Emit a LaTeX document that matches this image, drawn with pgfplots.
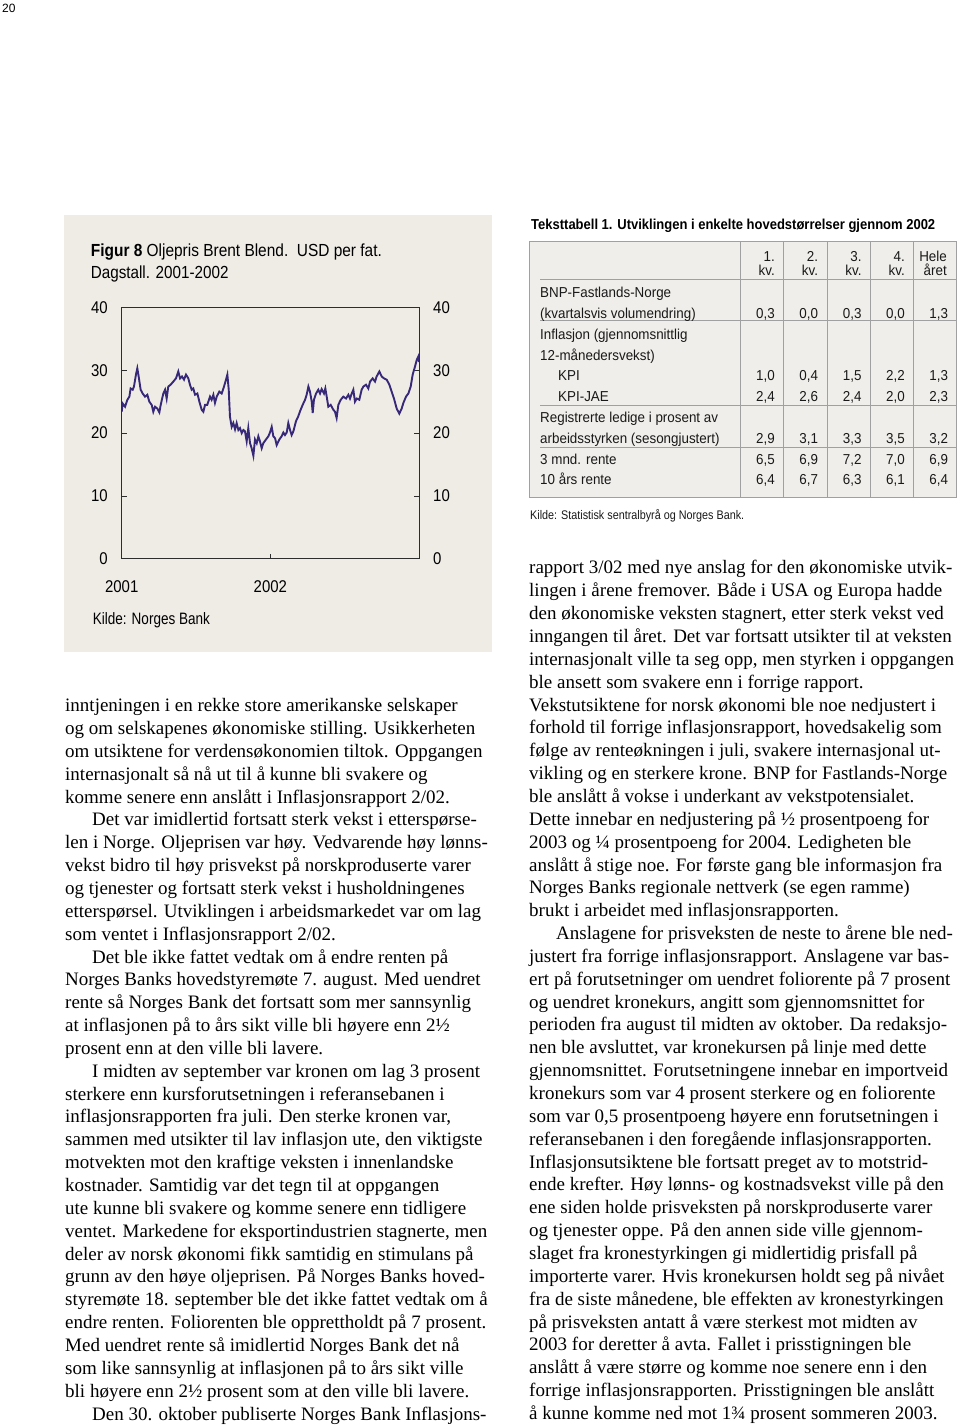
\documentclass[border=0pt]{standalone}
\usepackage{fontspec}
\usepackage{graphicx}
\usepackage{pgfplots}
\pgfplotsset{compat=1.18}
\setmainfont{Liberation Serif}
\newfontfamily\sansf{Liberation Sans}
\newfontfamily\chartf[FakeStretch=0.88]{Liberation Sans}
\newfontfamily\tabf[FakeStretch=0.93]{Liberation Sans}
\definecolor{chartbg}{RGB}{239,236,230}
\definecolor{tabbg}{RGB}{240,238,234}
\definecolor{oil}{RGB}{55,40,120}
\definecolor{axgray}{RGB}{45,45,45}
\definecolor{tline}{RGB}{160,160,160}
\definecolor{ttext}{RGB}{25,25,25}
\newcommand\bodyfont{\fontsize{19}{22.85}\selectfont}
\newcommand\chartfont{\chartf\fontsize{17}{20}\selectfont}
\newcommand\tabfont{\tabf\fontsize{14.4}{17}\selectfont\color{ttext}}
\newcommand\LL[2]{\node[anchor=base west,inner sep=0pt] at (65,{711.7+22.85*(#1-1)}) {\bodyfont #2};}
\newcommand\LI[2]{\node[anchor=base west,inner sep=0pt] at (92,{711.7+22.85*(#1-1)}) {\bodyfont #2};}
\newcommand\RR[2]{\node[anchor=base west,inner sep=0pt] at (529,{574+22.85*(#1-1)}) {\bodyfont #2};}
\newcommand\RI[2]{\node[anchor=base west,inner sep=0pt] at (556,{574+22.85*(#1-1)}) {\bodyfont #2};}
\newcommand\TL[3]{\node[anchor=base west,inner sep=0pt] at (#1,#2) {\tabfont #3};}
\newcommand\TR[3]{\node[anchor=base east,inner sep=0pt] at (#1,#2) {\tabfont #3};}
\newcommand\TRow[6]{\TR{775}{#1}{#2}\TR{818.3}{#1}{#3}\TR{861.7}{#1}{#4}\TR{905}{#1}{#5}\TR{948.3}{#1}{#6}}

\begin{document}
\begin{tikzpicture}
\path[use as bounding box] (0pt,0pt) rectangle (960pt,1425pt);
\begin{scope}[yshift=1425pt,x=1pt,y=-1pt]
\fill[chartbg] (64,215) rectangle (492,652);
\end{scope}

\begin{axis}[
  at={(121.7pt,866pt)}, anchor=south west,
  scale only axis, width=297.3pt, height=251.7pt,
  xmin=0, xmax=24, ymin=0, ymax=40,
  xtick={0,12}, xticklabels={2001,2002},
  ytick={0,10,20,30,40},
  tick align=inside, major tick length=5pt,
  xtick pos=bottom, ytick pos=both, yticklabel pos=left,
  axis line style={draw=axgray, line width=1pt},
  every tick/.style={draw=axgray, line width=1pt},
  /pgf/number format/assume math mode=true,
  tick label style={font=\chartfont, inner sep=0pt},
  yticklabel style={xshift=-13.7pt},
  xticklabel style={yshift=-21pt},
]
\addplot[oil, line width=1.9pt, mark=none] coordinates {
(0.00,23.4) (0.08,24.7) (0.27,24.2) (0.46,25.3) (0.62,25.8) (0.72,27.1) (0.89,26.9) (0.99,27.4)
(1.15,29.3) (1.26,30.3) (1.37,29.0) (1.53,26.9) (1.69,26.3) (1.88,25.8) (2.07,26.1) (2.23,25.0)
(2.42,24.5) (2.55,23.4) (2.69,24.2) (2.88,23.9) (3.04,23.3) (3.15,24.5) (3.36,26.3) (3.50,26.9)
(3.63,25.5) (3.76,27.4) (3.95,27.7) (4.17,28.2) (4.38,28.7) (4.57,29.8) (4.71,28.7) (4.87,29.0)
(5.03,28.5) (5.19,29.3) (5.38,28.7) (5.51,27.7) (5.65,26.9) (5.78,27.1) (5.92,26.1) (6.11,26.3)
(6.27,25.0) (6.46,23.7) (6.59,23.4) (6.73,24.5) (6.91,24.5) (7.13,25.8) (7.26,25.3) (7.40,26.1)
(7.53,24.8) (7.67,25.8) (7.88,26.6) (8.07,26.3) (8.26,27.4) (8.42,28.5) (8.53,29.3) (8.64,26.9)
(8.74,22.6) (8.88,21.0) (9.01,21.6) (9.15,20.6) (9.28,21.6) (9.42,20.5) (9.55,20.8) (9.69,20.0)
(9.82,20.5) (9.95,20.3) (10.09,18.7) (10.22,20.8) (10.36,18.4) (10.49,17.6) (10.63,16.4) (10.76,19.0)
(10.90,18.4) (11.03,19.5) (11.16,18.7) (11.30,17.6) (11.43,18.4) (11.65,19.0) (11.84,19.5) (11.97,20.1)
(12.11,21.0) (12.24,19.5) (12.38,19.2) (12.51,18.1) (12.73,19.0) (12.91,19.5) (13.05,20.1) (13.18,19.7)
(13.32,20.1) (13.45,21.6) (13.59,20.5) (13.72,19.7) (13.86,20.3) (14.07,21.9) (14.26,22.7) (14.40,23.5)
(14.61,24.5) (14.80,25.3) (14.93,26.1) (15.07,27.4) (15.20,26.6) (15.34,25.0) (15.42,23.2) (15.52,25.3)
(15.69,26.3) (15.87,26.9) (16.01,26.3) (16.14,27.0) (16.33,26.3) (16.44,27.1) (16.55,25.8) (16.68,24.2)
(16.87,24.5) (17.09,23.7) (17.22,23.4) (17.35,22.4) (17.49,24.5) (17.68,25.3) (17.89,25.8) (18.11,25.5)
(18.30,26.1) (18.43,25.5) (18.57,26.3) (18.70,26.9) (18.83,25.0) (18.97,25.5) (19.18,25.3) (19.37,26.9)
(19.51,27.4) (19.72,27.7) (19.91,27.1) (20.05,28.2) (20.26,28.7) (20.45,28.2) (20.58,29.0) (20.80,29.8)
(20.99,29.0) (21.18,28.7) (21.39,28.5) (21.61,27.7) (21.79,26.6) (21.98,25.5) (22.20,23.9) (22.41,23.1)
(22.60,23.9) (22.74,24.8) (22.95,25.8) (23.14,26.3) (23.33,27.4) (23.49,29.3) (23.68,30.6) (23.81,31.6)
(23.95,32.2) (24.00,31.3)
};
\end{axis}
\begin{axis}[
  at={(121.7pt,866pt)}, anchor=south west,
  scale only axis, width=297.3pt, height=251.7pt,
  xmin=0, xmax=24, ymin=0, ymax=40,
  hide x axis, axis y line*=right,
  y axis line style={draw=none},
  ytick={0,10,20,30,40}, major tick length=0pt,
  /pgf/number format/assume math mode=true,
  tick label style={font=\chartfont, inner sep=0pt},
  yticklabel style={xshift=14pt},
]
\addplot[draw=none] coordinates {(0,0)};
\end{axis}

\begin{scope}[yshift=1425pt,x=1pt,y=-1pt]
% page number
\node[anchor=base west,inner sep=0pt] at (2,12.7) {\sansf\fontsize{12}{14}\selectfont 20};
% chart texts
\node[anchor=base west,inner sep=0pt] at (90.7,256.7) {\resizebox{291pt}{\height}{\sansf\fontsize{17.5}{20}\selectfont\textbf{Figur 8} Oljepris Brent Blend.\ \ USD per fat.}};
\node[anchor=base west,inner sep=0pt] at (90.7,279) {\resizebox{137.6pt}{\height}{\sansf\fontsize{17.5}{20}\selectfont Dagstall. 2001-2002}};
\node[anchor=base west,inner sep=0pt] at (92.7,624.3) {\resizebox{117pt}{\height}{\sansf\fontsize{16.5}{20}\selectfont Kilde: Norges Bank}};

% table
\node[anchor=base west,inner sep=0pt] at (531,230) {\resizebox{404pt}{\height}{\sansf\bfseries\fontsize{14.4}{17}\selectfont Teksttabell 1. Utviklingen i enkelte hovedstørrelser gjennom 2002}};
\fill[tabbg] (529.3,241.7) rectangle (956.7,497.3);
\foreach \yy in {279.3,321,405.7,447.3} {\draw[tline, line width=1pt] (540,\yy) -- (956.7,\yy);}
\foreach \xx in {740.7,783.7,827,870.3,913.7} {\draw[tline, line width=1pt] (\xx,241.7) -- (\xx,497.3);}
\draw[tline, line width=1.2pt] (529.3,241.7) rectangle (956.7,497.3);
\TR{775}{261.7}{1.}\TR{818.3}{261.7}{2.}\TR{861.7}{261.7}{3.}\TR{905}{261.7}{4.}\TR{947}{261.7}{Hele}
\TR{775}{276}{kv.}\TR{818.3}{276}{kv.}\TR{861.7}{276}{kv.}\TR{905}{276}{kv.}\TR{947}{276}{året}
\TL{540}{297.7}{BNP-Fastlands-Norge}
\TL{540}{318.5}{(kvartalsvis volumendring)}\TRow{318.5}{0,3}{0,0}{0,3}{0,0}{1,3}
\TL{540}{339.3}{Inflasjon (gjennomsnittlig}
\TL{540}{360.1}{12-månedersvekst)}
\TL{558}{380.9}{KPI}\TRow{380.9}{1,0}{0,4}{1,5}{2,2}{1,3}
\TL{558}{401.7}{KPI-JAE}\TRow{401.7}{2,4}{2,6}{2,4}{2,0}{2,3}
\TL{540}{422.5}{Registrerte ledige i prosent av}
\TL{540}{443.3}{arbeidsstyrken (sesongjustert)}\TRow{443.3}{2,9}{3,1}{3,3}{3,5}{3,2}
\TL{540}{464.1}{3 mnd. rente}\TRow{464.1}{6,5}{6,9}{7,2}{7,0}{6,9}
\TL{540}{484.9}{10 års rente}\TRow{484.9}{6,4}{6,7}{6,3}{6,1}{6,4}
\node[anchor=base west,inner sep=0pt] at (530,520) {\resizebox{214pt}{\height}{\sansf\fontsize{12.5}{15}\selectfont\color{ttext}Kilde: Statistisk sentralbyrå og Norges Bank.}};

% left column
\LL{1}{inntjeningen i en rekke store amerikanske selskaper}
\LL{2}{og om selskapenes økonomiske stilling. Usikkerheten}
\LL{3}{om utsiktene for verdensøkonomien tiltok. Oppgangen}
\LL{4}{internasjonalt så nå ut til å kunne bli svakere og}
\LL{5}{komme senere enn anslått i Inflasjonsrapport 2/02.}
\LI{6}{Det var imidlertid fortsatt sterk vekst i etterspørse-}
\LL{7}{len i Norge. Oljeprisen var høy. Vedvarende høy lønns-}
\LL{8}{vekst bidro til høy prisvekst på norskproduserte varer}
\LL{9}{og tjenester og fortsatt sterk vekst i husholdningenes}
\LL{10}{etterspørsel. Utviklingen i arbeidsmarkedet var om lag}
\LL{11}{som ventet i Inflasjonsrapport 2/02.}
\LI{12}{Det ble ikke fattet vedtak om å endre renten på}
\LL{13}{Norges Banks hovedstyremøte 7. august. Med uendret}
\LL{14}{rente så Norges Bank det fortsatt som mer sannsynlig}
\LL{15}{at inflasjonen på to års sikt ville bli høyere enn 2½}
\LL{16}{prosent enn at den ville bli lavere.}
\LI{17}{I midten av september var kronen om lag 3 prosent}
\LL{18}{sterkere enn kursforutsetningen i referansebanen i}
\LL{19}{inflasjonsrapporten fra juli. Den sterke kronen var,}
\LL{20}{sammen med utsikter til lav inflasjon ute, den viktigste}
\LL{21}{motvekten mot den kraftige veksten i innenlandske}
\LL{22}{kostnader. Samtidig var det tegn til at oppgangen}
\LL{23}{ute kunne bli svakere og komme senere enn tidligere}
\LL{24}{ventet. Markedene for eksportindustrien stagnerte, men}
\LL{25}{deler av norsk økonomi fikk samtidig en stimulans på}
\LL{26}{grunn av den høye oljeprisen. På Norges Banks hoved-}
\LL{27}{styremøte 18. september ble det ikke fattet vedtak om å}
\LL{28}{endre renten. Foliorenten ble opprettholdt på 7 prosent.}
\LL{29}{Med uendret rente så imidlertid Norges Bank det nå}
\LL{30}{som like sannsynlig at inflasjonen på to års sikt ville}
\LL{31}{bli høyere enn 2½ prosent som at den ville bli lavere.}
\LI{32}{Den 30. oktober publiserte Norges Bank Inflasjons-}

% right column
\RR{1}{rapport 3/02 med nye anslag for den økonomiske utvik-}
\RR{2}{lingen i årene fremover. Både i USA og Europa hadde}
\RR{3}{den økonomiske veksten stagnert, etter sterk vekst ved}
\RR{4}{inngangen til året. Det var fortsatt utsikter til at veksten}
\RR{5}{internasjonalt ville ta seg opp, men styrken i oppgangen}
\RR{6}{ble ansett som svakere enn i forrige rapport.}
\RR{7}{Vekstutsiktene for norsk økonomi ble noe nedjustert i}
\RR{8}{forhold til forrige inflasjonsrapport, hovedsakelig som}
\RR{9}{følge av renteøkningen i juli, svakere internasjonal ut-}
\RR{10}{vikling og en sterkere krone. BNP for Fastlands-Norge}
\RR{11}{ble anslått å vokse i underkant av vekstpotensialet.}
\RR{12}{Dette innebar en nedjustering på ½ prosentpoeng for}
\RR{13}{2003 og ¼ prosentpoeng for 2004. Ledigheten ble}
\RR{14}{anslått å stige noe. For første gang ble informasjon fra}
\RR{15}{Norges Banks regionale nettverk (se egen ramme)}
\RR{16}{brukt i arbeidet med inflasjonsrapporten.}
\RI{17}{Anslagene for prisveksten de neste to årene ble ned-}
\RR{18}{justert fra forrige inflasjonsrapport. Anslagene var bas-}
\RR{19}{ert på forutsetninger om uendret foliorente på 7 prosent}
\RR{20}{og uendret kronekurs, angitt som gjennomsnittet for}
\RR{21}{perioden fra august til midten av oktober. Da redaksjo-}
\RR{22}{nen ble avsluttet, var kronekursen på linje med dette}
\RR{23}{gjennomsnittet. Forutsetningene innebar en importveid}
\RR{24}{kronekurs som var 4 prosent sterkere og en foliorente}
\RR{25}{som var 0,5 prosentpoeng høyere enn forutsetningen i}
\RR{26}{referansebanen i den foregående inflasjonsrapporten.}
\RR{27}{Inflasjonsutsiktene ble fortsatt preget av to motstrid-}
\RR{28}{ende krefter. Høy lønns- og kostnadsvekst ville på den}
\RR{29}{ene siden holde prisveksten på norskproduserte varer}
\RR{30}{og tjenester oppe. På den annen side ville gjennom-}
\RR{31}{slaget fra kronestyrkingen gi midlertidig prisfall på}
\RR{32}{importerte varer. Hvis kronekursen holdt seg på nivået}
\RR{33}{fra de siste månedene, ble effekten av kronestyrkingen}
\RR{34}{på prisveksten antatt å være sterkest mot midten av}
\RR{35}{2003 for deretter å avta. Fallet i prisstigningen ble}
\RR{36}{anslått å være større og komme noe senere enn i den}
\RR{37}{forrige inflasjonsrapporten. Prisstigningen ble anslått}
\RR{38}{å kunne komme ned mot 1¾ prosent sommeren 2003.}
\end{scope}
\end{tikzpicture}
\end{document}
